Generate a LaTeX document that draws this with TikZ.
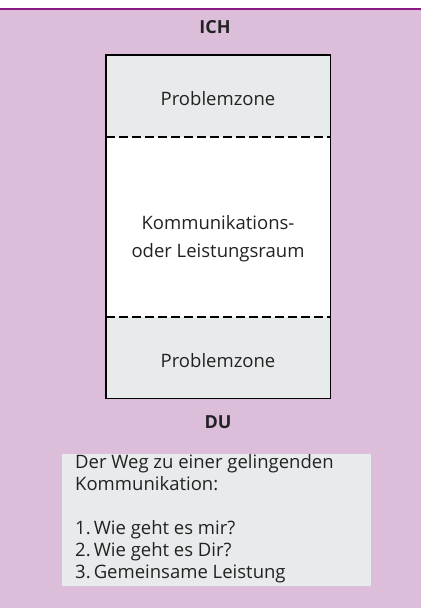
\documentclass[tikz,border=0pt]{standalone}
\usepackage{fontspec}
\setmainfont{Open Sans}
\definecolor{bgpink}{HTML}{DCBEDB}
\definecolor{topline}{HTML}{8B1A89}
\definecolor{zonegray}{HTML}{E8EBEC}
\definecolor{txt}{HTML}{222222}
\begin{document}
\begin{tikzpicture}[x=1pt,y=-1pt,
  zone/.style={draw=none,inner sep=0pt,minimum width=224pt,anchor=north west},
  lbl/.style={text=txt,inner sep=0pt,font=\fontsize{18.5}{22}\selectfont},
  label/.style={text=txt,font=\bfseries\fontsize{18}{22}\selectfont,inner sep=0pt},
  sep/.style={line width=2pt,dash pattern=on 9pt off 4pt},
]
\useasboundingbox (0,0) rectangle (421,608);
\fill[white] (0,0) rectangle (421,608);
\fill[bgpink] (0,9) rectangle (421,608);
\draw[topline,line width=2.5pt] (0,9) -- (421,9);

\node[label] (ich) at (215,27) {ICH};

\node[zone,fill=zonegray,minimum height=82pt] (top) at (106,55) {};
\node[zone,fill=white,minimum height=180pt] (mid) at (106,137) {};
\node[zone,fill=zonegray,minimum height=81pt] (bot) at (106,317) {};
\draw[black,line width=1.8pt] (top.north west) rectangle (bot.south east);
\draw[sep] (mid.north west) -- (mid.north east);
\draw[sep] (mid.south west) -- (mid.south east);

\node[lbl] (ptop) at (218,99) {Problemzone};
\node[lbl,align=center,font=\fontsize{18.5}{28}\selectfont] (kom) at (218,239) {Kommunikations-\\oder Leistungsraum};
\node[lbl] (pbot) at (218,361) {Problemzone};

\node[label] (du) at (218,422) {DU};

\fill[zonegray] (62,454) rectangle (371,586);
\node[anchor=north west,inner sep=0pt,align=left,text=txt,font=\fontsize{18.5}{22}\selectfont] (weg) at (75,454)
 {Der Weg zu einer gelingenden\\Kommunikation:\\[22pt]1.\,Wie geht es mir?\\2.\,Wie geht es Dir?\\3.\,Gemeinsame Leistung};
\end{tikzpicture}
\end{document}
